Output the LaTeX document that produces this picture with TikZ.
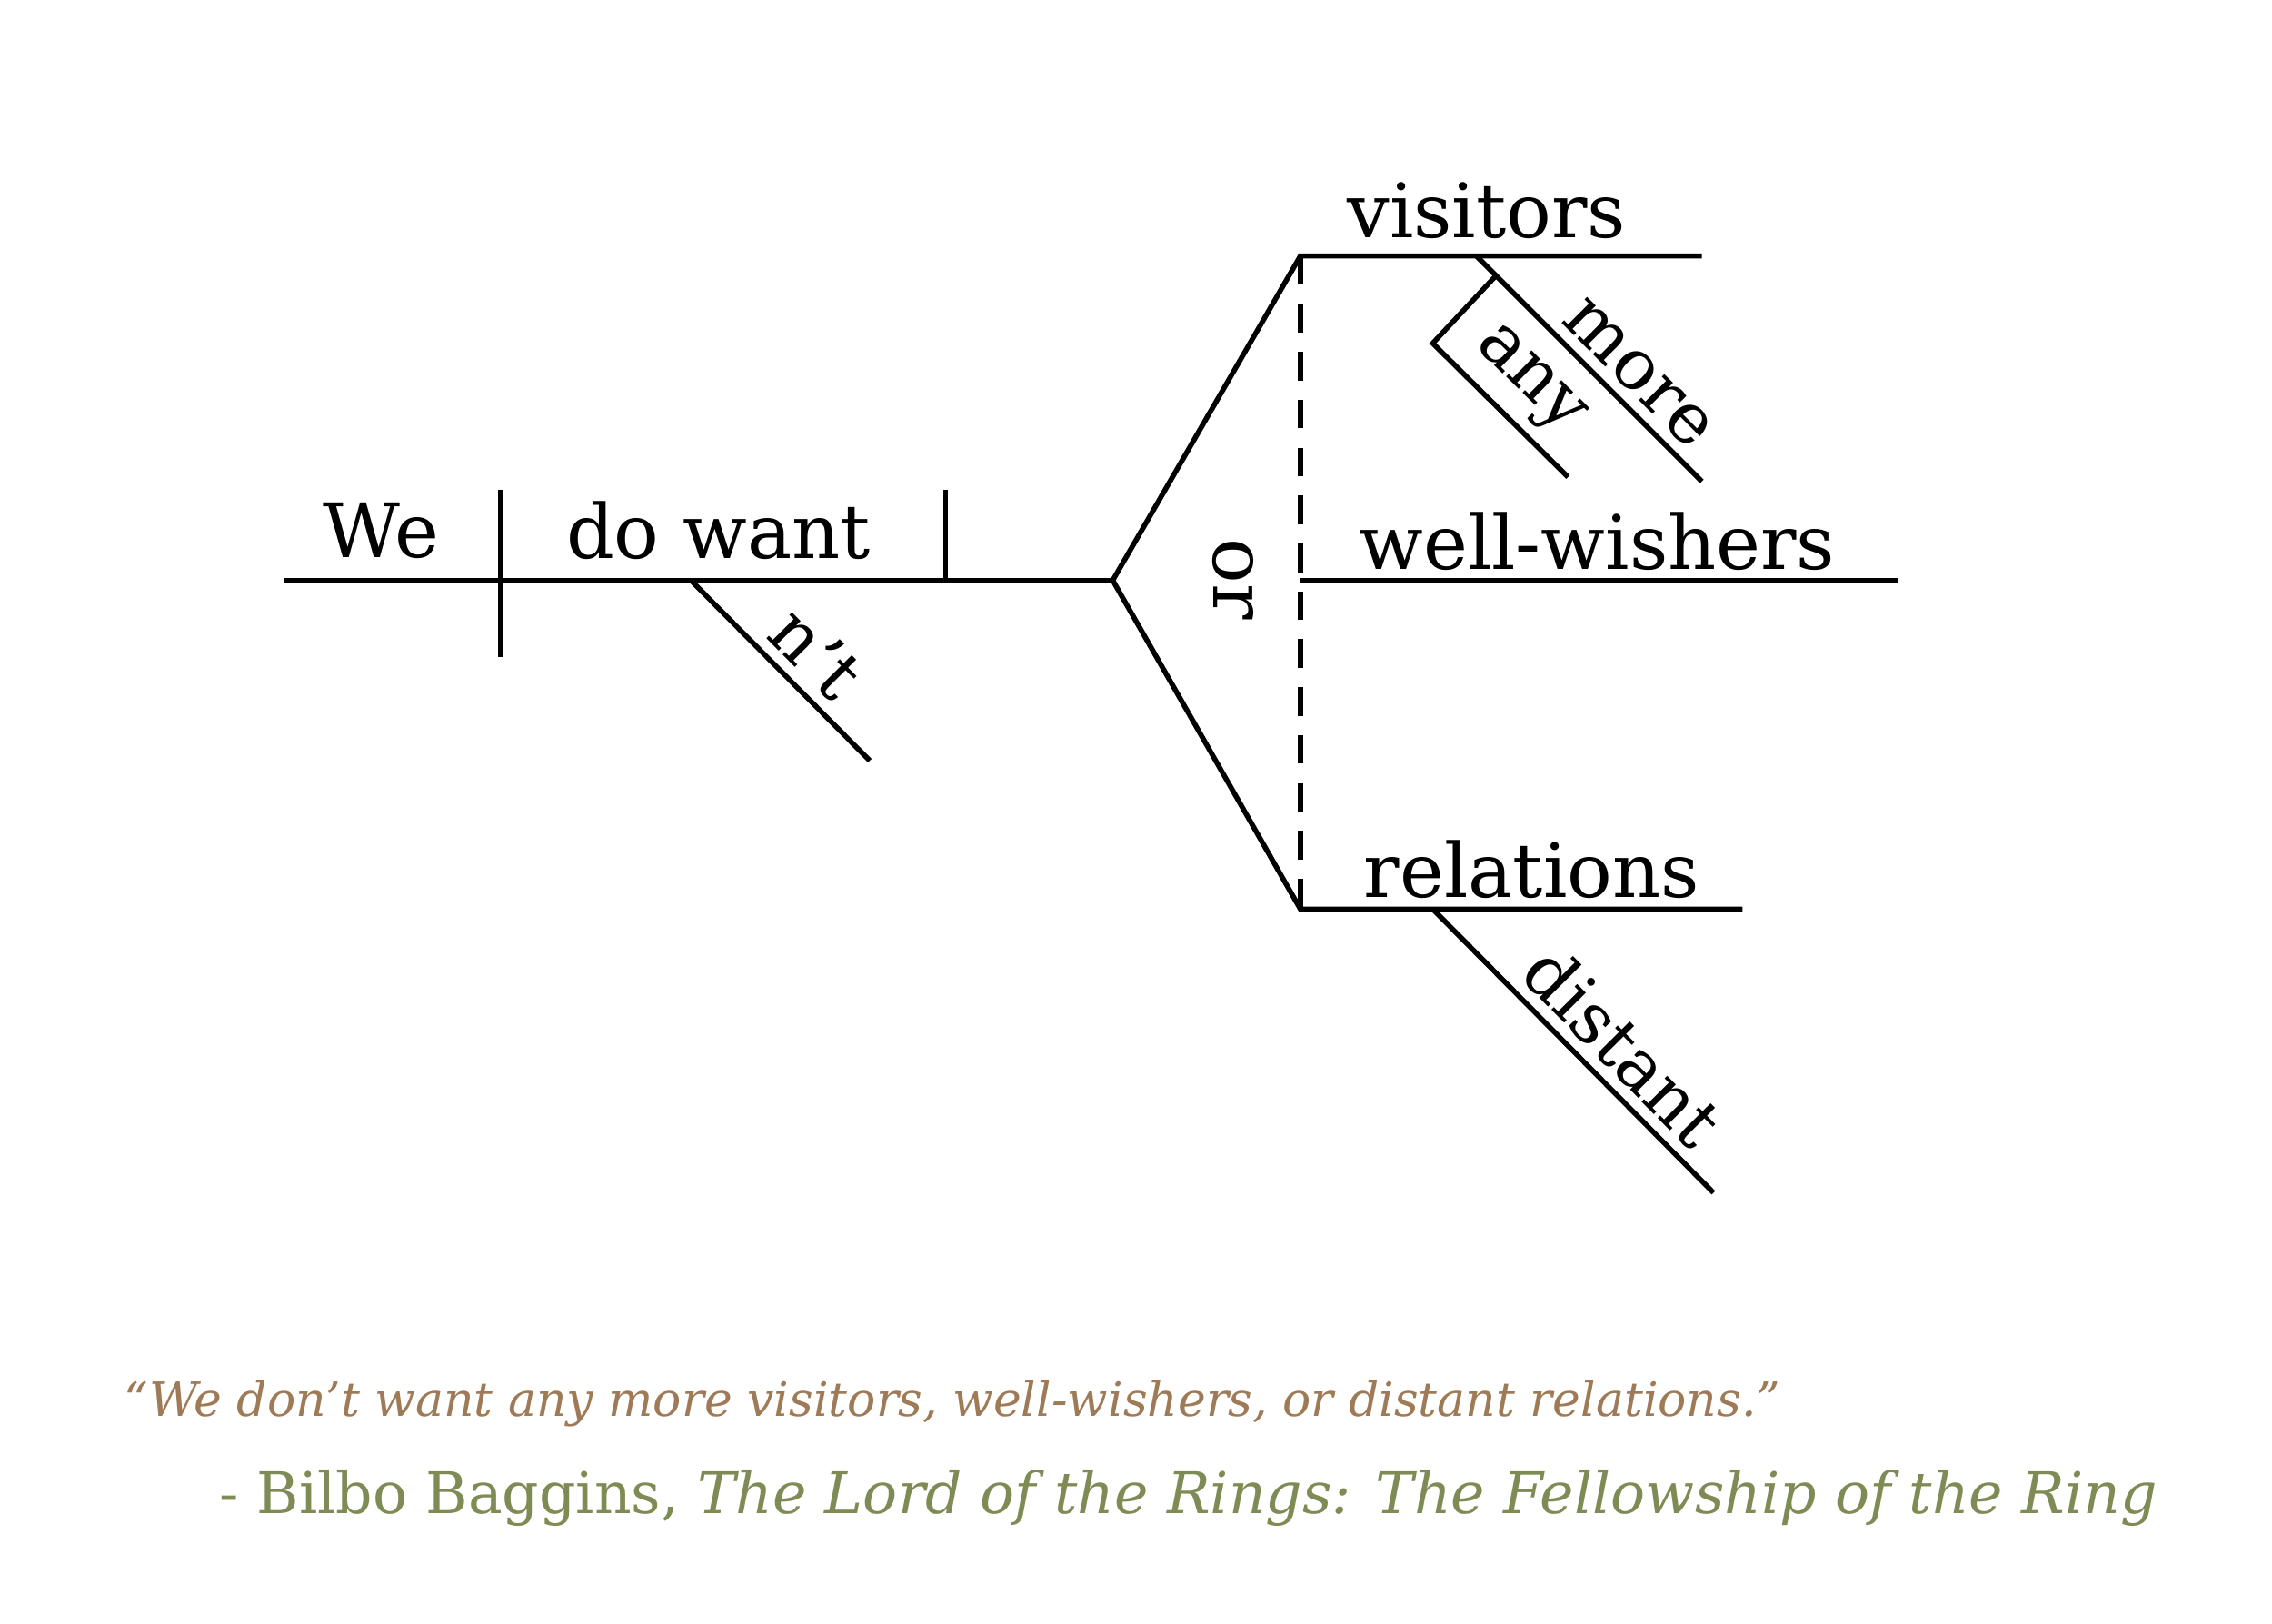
\documentclass[tikz,border=0pt]{standalone}
\usepackage{fontspec}
\setmainfont{DejaVu Serif}
\begin{document}
\begin{tikzpicture}[x=0.016cm,y=-0.016cm,line width=1.6pt,
  word/.style={font=\fontsize{23.5}{27}\selectfont},
  slant/.style={sloped,above,inner sep=3pt,font=\fontsize{22}{25}\selectfont}]
\useasboundingbox (0,0) rectangle (1562,1116);
\coordinate (b0) at (195,399); \coordinate (b1) at (765,399);
\coordinate (s0) at (344,337); \coordinate (s1) at (344,452);
\coordinate (v0) at (650,337); \coordinate (v1) at (650,399);
\coordinate (n0) at (475,399); \coordinate (n1) at (598,523);
\coordinate (top) at (894,176); \coordinate (mid) at (894,399); \coordinate (bot) at (894,625);
\coordinate (vis) at (1170,176); \coordinate (ww) at (1305,399); \coordinate (rel) at (1198,625);
\coordinate (m0) at (1015,176); \coordinate (m1) at (1170,331);
\coordinate (a0) at (1028,190); \coordinate (a1) at (985,236); \coordinate (a2) at (1078,328);
\coordinate (d0) at (985,625); \coordinate (d1) at (1178,820);
\draw (b0) -- (b1);
\draw (s0) -- (s1);
\draw (v0) -- (v1);
\draw (n0) -- node[slant,pos=0.55]{n’t} (n1);
\draw (b1) -- (top) -- (vis);
\draw (b1) -- (bot) -- (rel);
\draw (mid) -- (ww);
\draw[dash pattern=on 9pt off 6pt] (top) -- (bot);
\draw (m0) -- node[slant,pos=0.62]{more} (m1);
\draw (a0) -- (a1) -- node[slant,pos=0.5]{any} (a2);
\draw (d0) -- node[slant,pos=0.58]{distant} (d1);
\node[word] (we) at (262,365) {We};
\node[word] (dw) at (494,365) {do want};
\node[word,rotate=-90] (or) at (848,398) {or};
\node[word] (tv) at (1022,145) {visitors};
\node[word] (tw) at (1098,372) {well-wishers};
\node[word] (tr) at (1053,598) {relations};
\node[font=\itshape\fontsize{14.8}{17}\selectfont,text=brown!70!black!80,anchor=west] (q) at (76,965)
  {“We don’t want any more visitors, well-wishers, or distant relations.”};
\node[font=\fontsize{18}{21}\selectfont,text={rgb,255:red,127;green,139;blue,85},anchor=east] (au) at (1492,1030)
  {- Bilbo Baggins, \textit{The Lord of the Rings: The Fellowship of the Ring}};
\end{tikzpicture}
\end{document}
